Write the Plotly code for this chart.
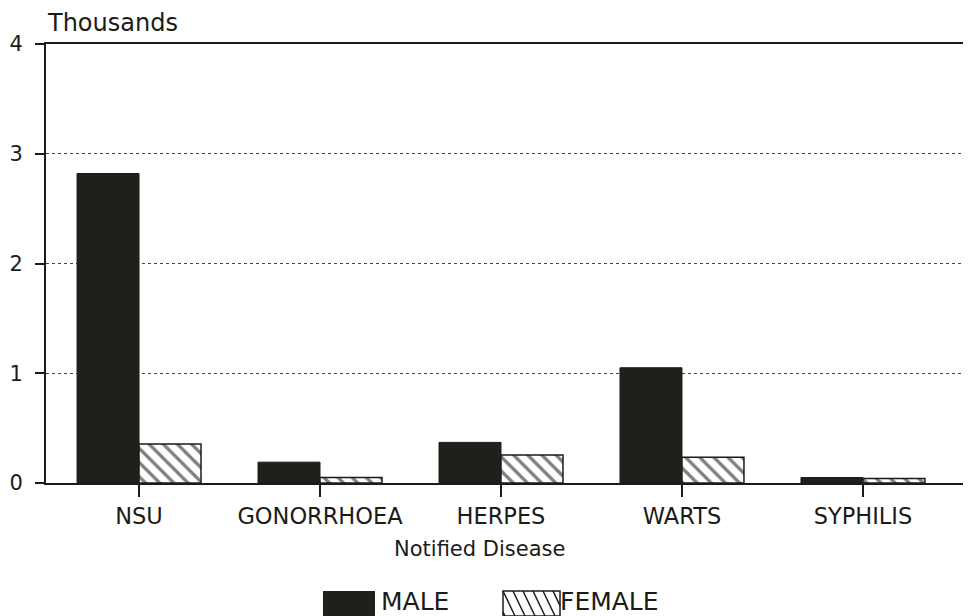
import plotly.graph_objects as go

categories = ["NSU", "GONORRHOEA", "HERPES", "WARTS", "SYPHILIS"]
male = [2.82, 0.19, 0.37, 1.05, 0.05]
female = [0.355, 0.05, 0.255, 0.235, 0.04]
y_ticks = [0, 1, 2, 3, 4]

W, H = 971, 616
OFF = 8  # page body margin in the browser
AX_L, AX_T, AX_B, AX_R = 46, 44, 483, 971
L = AX_L - OFF
T = AX_T - OFF
B = H - (AX_B - OFF)
R = W - (AX_R - OFF)
PW, PH = W - L - R, H - T - B
FONT = "DejaVu Sans"
INK = "#1b1b18"

def px(x):
    return (x - AX_L) / PW

def py(y):
    return (AX_B - y) / PH

fig = go.Figure()
fig.add_trace(go.Bar(x=categories, y=male, name="MALE",
                     marker=dict(color="#1f1f1b", line=dict(color=INK, width=1))))
fig.add_trace(go.Bar(x=categories, y=female, name="FEMALE",
                     marker=dict(color="white", line=dict(color=INK, width=1.5),
                                 pattern=dict(shape="\\", fgcolor="#000000", bgcolor="white",
                                              size=10, solidity=0.33))))

SW_TOP, SW_BOT = 591, 616
shapes = []
shapes.append(dict(type="rect", xref="paper", yref="paper",
                   x0=px(323), x1=px(375), y0=py(SW_BOT), y1=py(SW_TOP),
                   fillcolor="#1f1f1b", line=dict(width=0)))
shapes.append(dict(type="rect", xref="paper", yref="paper",
                   x0=px(503), x1=px(560), y0=py(SW_BOT), y1=py(SW_TOP),
                   fillcolor="white", line=dict(color=INK, width=1.5)))
hgt = SW_BOT - SW_TOP
dx = 12
for k in range(-3, 7):
    xa0 = 503 + k * 10
    xa, xb = xa0, xa0 + dx
    ya, yb = SW_TOP, SW_BOT
    if xa < 503:
        ya = SW_TOP + (503 - xa0) * (hgt / dx)
        xa = 503
    if xb > 560:
        yb = SW_TOP + (560 - xa0) * (hgt / dx)
        xb = 560
    if xa >= xb:
        continue
    shapes.append(dict(type="line", xref="paper", yref="paper",
                       x0=px(xa), x1=px(xb), y0=py(ya), y1=py(yb),
                       line=dict(color=INK, width=1.5)))

annotations = [
    dict(text="Thousands", xref="paper", yref="paper", x=px(45), y=py(23),
         xanchor="left", yanchor="middle", showarrow=False,
         font=dict(family=FONT, size=24, color=INK)),
    dict(text="MALE", xref="paper", yref="paper", x=px(379), y=py(601),
         xanchor="left", yanchor="middle", showarrow=False,
         font=dict(family=FONT, size=25, color=INK)),
    dict(text="FEMALE", xref="paper", yref="paper", x=px(558), y=py(601),
         xanchor="left", yanchor="middle", showarrow=False,
         font=dict(family=FONT, size=25, color=INK)),
    dict(text="Notified Disease", xref="paper", yref="paper", x=px(479), y=py(549),
         xanchor="center", yanchor="middle", showarrow=False,
         font=dict(family=FONT, size=21, color=INK)),
]

fig.update_layout(
    width=W, height=H,
    margin=dict(l=L, r=R, t=T, b=B, pad=0, autoexpand=False),
    paper_bgcolor="white", plot_bgcolor="white",
    barmode="group", bargap=0.315, bargroupgap=0,
    showlegend=False,
    shapes=shapes, annotations=annotations,
    font=dict(family=FONT, color=INK),
)
fig.update_xaxes(
    range=[-0.514, 4.597], showgrid=False, showline=True, mirror=True,
    linecolor=INK, linewidth=2, ticks="outside", ticklen=12, tickwidth=1.5,
    tickcolor=INK, tickfont=dict(family=FONT, size=22.5, color=INK),
    zeroline=False, automargin=False,
)
fig.update_yaxes(
    range=[0, 4], tickvals=y_ticks, ticktext=[str(v) for v in y_ticks],
    showgrid=True, gridcolor="#444", griddash="dot", gridwidth=1,
    showline=True, linecolor=INK, linewidth=2, ticks="outside", ticklen=9,
    tickwidth=1.5, tickcolor=INK, tickfont=dict(family=FONT, size=21, color=INK),
    zeroline=False, ticklabelstandoff=8, automargin=False,
)

fig.write_html("out.html")
